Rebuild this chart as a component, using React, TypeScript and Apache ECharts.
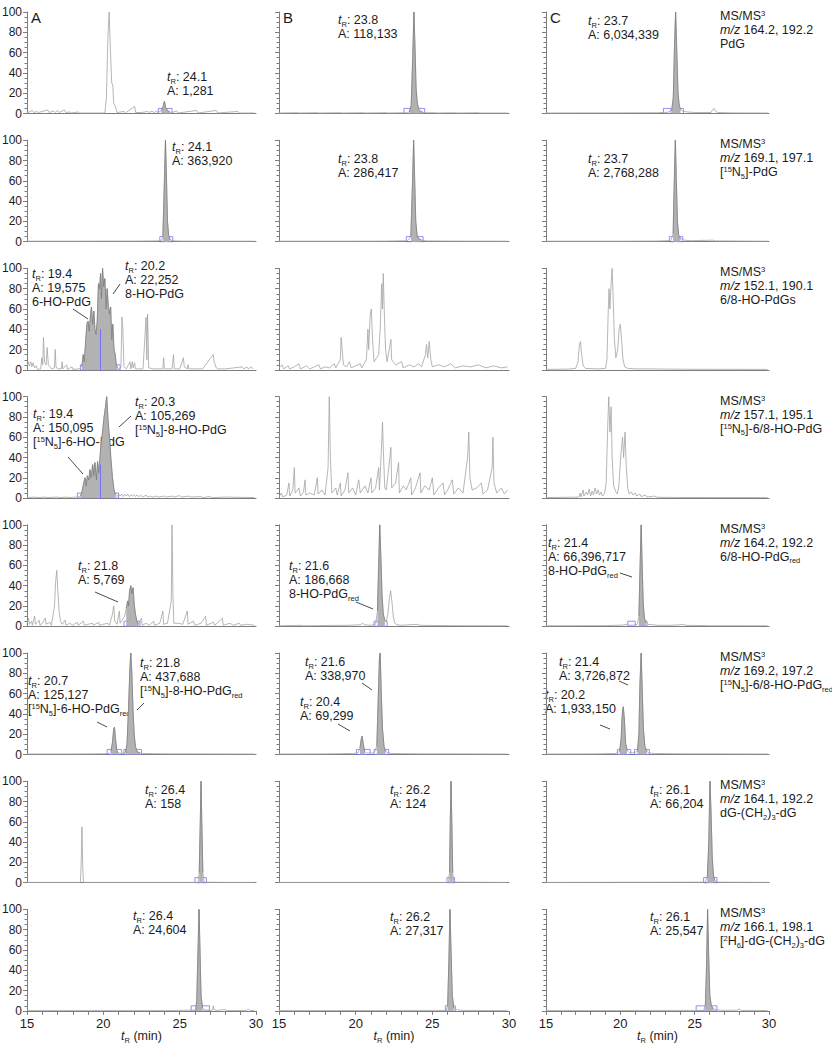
import React, { useEffect, useRef } from "react";
import * as echarts from "echarts";

const FONT = "'Liberation Sans', Arial, Helvetica, sans-serif";
const X_MIN = 15;
const X_MAX = 30;
const xTickLabels = [15, 20, 25, 30];
const yTickLabels = [0, 20, 40, 60, 80, 100];
const panelLetters = ["A", "B", "C"];
const mzPairs = [
  "164.2, 192.2",
  "169.1, 197.1",
  "152.1, 190.1",
  "157.1, 195.1",
  "164.2, 192.2",
  "169.2, 197.2",
  "164.1, 192.2",
  "166.1, 198.1",
];
const N15 = "{n|[}{sup|15}{n|N}{sub|5}{n|]}";
const compoundLabels = [
  "{n|PdG}",
  N15 + "{n|-PdG}",
  "{n|6/8-HO-PdGs}",
  N15 + "{n|-6/8-HO-PdG}",
  "{n|6/8-HO-PdG}{sub|red}",
  N15 + "{n|-6/8-HO-PdG}{sub|red}",
  "{n|dG-(CH}{sub|2}{n|)}{sub|3}{n|-dG}",
  "{n|[}{sup|2}{n|H}{sub|6}{n|]-dG-(CH}{sub|2}{n|)}{sub|3}{n|-dG}",
];

// ---- traces: [time (min), relative abundance (%)] ----
const trA1 = [[15.0,0.5],[15.35,3],[15.45,1],[15.65,2],[15.75,1],[16.35,3.5],[16.45,1],[16.75,2.5],[16.85,1],[17.0,3],[17.1,1],[17.45,3.5],[17.55,1],[17.8,1.5],[17.9,0.5],[18.35,1.5],[18.45,0.5],[20.1,0.5],[20.2,15],[20.3,75],[20.38,100],[20.47,60],[20.55,30],[20.62,28],[20.68,10],[20.78,7],[20.9,1],[21.35,2],[21.45,0.5],[22.05,7],[22.12,1],[22.5,1],[22.9,2],[23.0,1],[23.2,2.5],[23.3,1],[23.5,2],[23.6,1],[23.8,3],[23.92,7],[24.0,12],[24.08,6],[24.2,3],[24.35,1.5],[24.5,1],[24.8,2.5],[24.9,0.5],[26.1,3],[26.2,0.5],[27.4,3],[27.5,0.5],[28.8,2],[28.9,0.5],[29.9,0.5]];
const trB1 = [[15.0,0.5],[16.2,0.8],[16.3,0.5],[17.5,0.8],[17.6,0.5],[19.0,0.8],[19.1,0.5],[20.5,0.8],[20.6,0.5],[22.0,0.8],[22.1,0.5],[23.3,0.8],[23.5,1.5],[23.62,8],[23.72,55],[23.8,100],[23.87,65],[23.94,25],[24.02,10],[24.12,4],[24.25,2],[24.4,1],[24.6,0.8],[25.2,0.8],[25.3,0.5],[26.5,0.8],[26.6,0.5],[28.0,0.8],[28.1,0.5],[29.9,0.5]];
const trC1 = [[15.0,0.5],[17.0,0.6],[19.0,0.6],[21.0,0.7],[22.5,0.8],[23.2,1.2],[23.45,3],[23.56,15],[23.65,70],[23.72,100],[23.8,60],[23.88,20],[23.96,8],[24.05,4],[24.2,2.5],[24.5,1.5],[25.0,1],[26.1,1],[26.22,4],[26.32,5],[26.42,2],[26.55,1],[27.5,0.6],[29.9,0.5]];

const trA2 = [[15.0,0.5],[18.0,0.5],[20.0,0.6],[22.0,0.6],[23.5,0.8],[23.8,1.2],[23.9,5],[24.0,60],[24.07,100],[24.14,60],[24.2,20],[24.28,6],[24.38,2],[24.5,1],[25.0,0.6],[27.0,0.5],[29.9,0.5]];
const trB2 = [[15.0,0.5],[19.0,0.5],[22.0,0.6],[23.4,1],[23.6,5],[23.7,55],[23.78,100],[23.85,60],[23.92,20],[24.0,7],[24.1,3],[24.3,1.5],[24.6,0.8],[26.0,0.6],[29.9,0.5]];
const trC2 = [[15.0,0.5],[20.0,0.5],[22.5,0.7],[23.4,1.2],[23.55,8],[23.63,60],[23.7,100],[23.77,60],[23.84,20],[23.93,6],[24.05,3],[24.3,1.5],[24.7,1],[26.2,1.5],[26.4,0.8],[29.9,0.5]];

const trA3 = [[15.0,3],[15.08,8],[15.15,4],[15.25,8],[15.32,3],[15.4,7],[15.5,2],[15.6,4],[15.7,0.5],[15.9,1],[15.97,12],[16.03,5],[16.08,32],[16.15,8],[16.25,5],[16.32,22],[16.4,5],[16.5,3],[16.6,1],[16.8,2],[16.85,20],[16.9,3],[17.0,1],[17.25,1],[17.3,8],[17.35,1],[17.6,5],[17.65,0.5],[17.95,3],[18.0,0.5],[18.4,1],[18.5,2],[18.6,4],[18.68,15],[18.75,8],[18.85,30],[18.92,45],[19.0,48],[19.07,38],[19.15,52],[19.22,62],[19.3,45],[19.38,58],[19.45,40],[19.52,35],[19.6,48],[19.68,85],[19.75,80],[19.82,95],[19.88,70],[19.95,100],[20.02,82],[20.1,90],[20.18,60],[20.25,80],[20.32,65],[20.4,55],[20.48,62],[20.55,30],[20.62,45],[20.7,20],[20.78,15],[20.85,5],[20.92,2],[21.0,1],[21.15,2],[21.22,52],[21.28,40],[21.35,3],[21.5,1],[21.75,8],[21.8,1],[21.9,8],[21.95,2],[22.05,7],[22.1,1],[22.6,1],[22.8,52],[22.85,10],[22.9,55],[22.97,2],[23.3,1],[23.9,1],[23.95,12],[24.0,1],[24.5,1],[24.6,15],[24.65,1],[25.0,1],[25.25,12],[25.3,3],[25.5,1],[25.55,5],[25.6,1],[26.5,1],[27.2,15],[27.26,8],[27.4,2],[27.5,1],[28.0,1],[29.1,3],[29.2,1],[29.4,3],[29.5,1],[29.7,3],[29.8,1]];
const trB3 = [[15.0,2],[15.2,5],[15.3,1],[15.6,4],[15.7,1],[16.0,3],[16.3,6],[16.4,1],[16.8,4],[17.0,1],[17.3,3],[17.6,5],[17.7,1],[18.0,3],[18.3,2],[18.6,6],[18.7,2],[19.0,10],[19.05,32],[19.12,20],[19.2,5],[19.4,3],[19.6,8],[19.7,2],[20.0,4],[20.3,6],[20.4,2],[20.7,10],[20.8,40],[20.85,20],[20.95,55],[21.02,60],[21.1,30],[21.2,8],[21.5,15],[21.6,40],[21.7,85],[21.75,60],[21.8,95],[21.88,50],[21.95,20],[22.05,8],[22.3,30],[22.35,10],[22.6,5],[23.0,8],[23.1,2],[23.5,5],[23.8,3],[24.1,6],[24.3,3],[24.55,15],[24.62,25],[24.7,12],[24.8,28],[24.9,10],[25.0,3],[25.4,5],[25.8,3],[26.2,6],[26.5,2],[27.0,4],[27.5,3],[28.0,5],[28.5,2],[29.0,4],[29.5,2],[29.9,3]];
const trC3 = [[15.0,0.5],[16.5,0.8],[17.0,1.5],[17.15,8],[17.25,25],[17.32,28],[17.4,15],[17.5,4],[17.65,1.5],[18.5,1],[19.0,1.5],[19.1,10],[19.18,55],[19.24,80],[19.3,60],[19.38,85],[19.45,100],[19.52,70],[19.6,30],[19.7,12],[19.82,20],[19.92,40],[20.0,45],[20.08,30],[20.18,10],[20.3,3],[20.5,1.5],[21.0,1],[22.0,1],[23.0,0.8],[25.0,0.6],[29.9,0.5]];

const trA4 = [[15.0,0.5],[15.5,1],[15.6,0.5],[16.2,1],[16.3,0.5],[17.0,1],[17.1,0.5],[17.6,1],[17.7,0.5],[18.2,1],[18.3,0.5],[18.5,2],[18.6,6],[18.7,14],[18.8,20],[18.88,12],[18.95,22],[19.05,18],[19.12,28],[19.2,20],[19.3,33],[19.38,22],[19.45,35],[19.55,18],[19.62,36],[19.7,25],[19.78,40],[19.86,55],[19.95,65],[20.05,80],[20.14,90],[20.22,100],[20.3,78],[20.4,60],[20.5,38],[20.6,20],[20.7,8],[20.8,3],[20.9,1.5],[21.0,4],[21.1,2],[21.2,4],[21.3,1.5],[21.4,3.5],[21.5,2],[21.6,4],[21.7,1.5],[21.8,3],[21.9,2],[22.0,3.5],[22.1,1.5],[22.2,3],[22.3,1.5],[22.45,2.5],[22.6,1],[22.8,3],[22.9,1],[23.1,2],[23.2,1],[23.5,2],[23.6,1],[24.0,2],[24.1,1],[24.5,2],[24.6,1],[25.0,2.5],[25.1,1],[25.6,2],[25.7,1],[26.4,1.5],[26.5,0.5],[27.0,1.5],[27.1,0.5],[28.0,1],[29.9,0.5]];
const trB4 = [[15.0,1],[15.15,5],[15.25,1],[15.5,3],[15.65,15],[15.7,2],[15.9,8],[16.0,30],[16.05,5],[16.3,10],[16.4,2],[16.6,6],[16.7,18],[16.75,3],[17.0,5],[17.3,3],[17.5,20],[17.55,4],[17.8,8],[18.0,3],[18.2,30],[18.28,100],[18.35,40],[18.45,5],[18.7,10],[18.8,3],[19.0,15],[19.05,2],[19.3,8],[19.5,25],[19.55,5],[19.8,10],[20.0,3],[20.2,18],[20.3,5],[20.6,12],[20.8,5],[21.0,20],[21.05,5],[21.3,10],[21.5,30],[21.55,8],[21.7,55],[21.75,75],[21.82,40],[21.9,10],[22.0,8],[22.3,50],[22.35,10],[22.6,15],[22.8,35],[22.85,5],[23.1,12],[23.3,8],[23.6,20],[23.65,3],[23.9,10],[24.2,25],[24.25,5],[24.5,12],[24.8,8],[25.0,20],[25.1,3],[25.4,10],[25.7,15],[25.8,3],[26.0,8],[26.3,18],[26.4,4],[26.7,10],[27.0,5],[27.3,40],[27.38,65],[27.45,20],[27.6,8],[27.9,10],[28.2,15],[28.3,4],[28.6,8],[28.9,30],[28.95,60],[29.02,15],[29.2,5],[29.5,10],[29.7,4],[29.9,8]];
const trC4 = [[15.0,0.5],[16.5,0.8],[17.2,1],[17.3,5],[17.35,1],[17.5,8],[17.55,2],[17.7,6],[17.8,3],[17.9,9],[18.0,2],[18.1,7],[18.2,3],[18.3,10],[18.4,4],[18.5,8],[18.6,3],[18.7,6],[18.8,2],[18.95,5],[19.05,15],[19.15,70],[19.22,100],[19.3,65],[19.38,90],[19.45,40],[19.55,12],[19.7,6],[19.8,4],[19.9,12],[20.05,45],[20.15,60],[20.22,40],[20.32,65],[20.4,30],[20.5,10],[20.6,4],[20.75,6],[20.85,3],[21.0,5],[21.1,2],[21.3,4],[21.4,1.5],[21.7,3],[21.8,1],[22.3,2],[22.5,0.8],[24.0,0.6],[29.9,0.5]];

const trA5 = [[15.0,2],[15.1,8],[15.15,2],[15.3,5],[15.35,1],[15.5,10],[15.55,2],[15.8,6],[15.85,1],[16.0,3],[16.2,8],[16.25,2],[16.5,4],[16.6,1],[16.8,20],[16.88,45],[16.95,55],[17.02,35],[17.1,15],[17.2,5],[17.3,2],[17.5,6],[17.55,1],[17.8,3],[18.0,1],[18.3,4],[18.35,1],[18.7,5],[18.75,1],[19.0,2],[19.3,3],[19.35,1],[19.7,4],[19.75,1],[20.0,2],[20.3,3],[20.4,1],[20.6,12],[20.68,20],[20.75,5],[20.9,2],[21.05,15],[21.1,3],[21.3,8],[21.4,10],[21.5,18],[21.6,25],[21.65,20],[21.72,35],[21.8,40],[21.87,32],[21.95,38],[22.02,22],[22.1,12],[22.2,5],[22.3,2],[22.5,8],[22.55,1],[22.8,3],[23.0,1],[23.3,5],[23.35,1],[23.7,3],[23.9,15],[23.95,2],[24.2,3],[24.45,25],[24.5,100],[24.56,30],[24.62,3],[24.9,3],[25.2,2],[25.5,15],[25.55,2],[25.9,5],[26.0,1],[26.4,3],[26.7,10],[26.75,1],[27.2,4],[27.3,1],[27.8,8],[27.85,1],[28.3,3],[28.5,1],[28.9,3],[29.0,1],[29.4,2],[29.9,1]];
const trB5 = [[15.0,0.5],[16.5,1],[16.6,0.5],[18.0,0.8],[19.5,1],[20.3,1.5],[20.45,3],[20.6,1.5],[21.0,1],[21.3,2],[21.42,15],[21.5,60],[21.57,100],[21.64,70],[21.72,30],[21.8,12],[21.9,6],[22.0,5],[22.1,12],[22.2,28],[22.28,35],[22.36,25],[22.45,10],[22.55,3],[22.7,1.5],[23.0,1],[24.0,2],[24.2,1],[25.0,0.8],[27.0,0.6],[29.9,0.5]];
const trC5 = [[15.0,0.5],[17.0,0.6],[19.0,0.7],[20.2,1.2],[20.4,2],[20.55,1],[21.0,1.2],[21.15,2],[21.25,10],[21.33,60],[21.4,100],[21.47,60],[21.54,22],[21.62,8],[21.72,4],[21.85,2],[22.2,1.5],[22.5,1],[23.4,1],[24.0,1.5],[24.2,2],[24.4,1],[26.0,0.6],[29.9,0.5]];

const trA6 = [[15.0,0.5],[17.0,0.5],[19.0,0.6],[20.0,0.8],[20.4,1],[20.5,3],[20.6,12],[20.68,25],[20.73,27],[20.8,15],[20.88,4],[20.98,1.5],[21.2,1],[21.45,2],[21.55,10],[21.65,45],[21.74,85],[21.8,100],[21.87,80],[21.94,45],[22.02,20],[22.1,8],[22.2,3],[22.4,1.5],[22.6,1],[24.0,0.7],[26.0,0.6],[29.9,0.5]];
const trB6 = [[15.0,0.5],[18.0,0.6],[19.8,1],[20.15,1.5],[20.28,6],[20.36,15],[20.42,18],[20.5,10],[20.58,3],[20.7,1.5],[21.2,1.5],[21.38,8],[21.47,55],[21.55,95],[21.6,100],[21.67,60],[21.75,25],[21.85,8],[21.95,3],[22.1,1.5],[22.4,1],[24.0,0.7],[29.9,0.5]];
const trC6 = [[15.0,0.5],[18.0,0.6],[19.7,1],[19.95,3],[20.05,15],[20.13,40],[20.2,47],[20.27,35],[20.35,12],[20.45,4],[20.6,2],[20.9,1.5],[21.15,3],[21.25,20],[21.32,70],[21.4,100],[21.47,65],[21.55,25],[21.65,8],[21.78,3],[21.95,1.5],[22.3,1],[24.0,0.7],[29.9,0.5]];

const trA7 = [[15.0,0.3],[17.0,0.3],[18.5,0.3],[18.55,20],[18.6,55],[18.65,15],[18.7,0.3],[22.0,0.3],[26.2,0.3],[26.28,10],[26.35,60],[26.4,100],[26.45,60],[26.52,10],[26.6,0.5],[28.0,0.3],[29.9,0.3]];
const trB7 = [[15.0,0.3],[26.05,0.3],[26.12,10],[26.18,70],[26.22,100],[26.27,60],[26.33,10],[26.4,0.5],[29.9,0.3]];
const trC7 = [[15.0,0.3],[25.7,0.5],[25.85,5],[25.95,40],[26.03,100],[26.1,70],[26.18,25],[26.26,8],[26.35,2],[26.6,0.5],[29.9,0.3]];

const trA8 = [[15.0,0.3],[24.0,0.3],[26.05,0.8],[26.12,10],[26.2,60],[26.27,100],[26.34,55],[26.4,15],[26.5,3],[26.65,1],[27.0,0.5],[27.15,1],[27.2,5],[27.25,1],[27.5,0.5],[28.0,1.5],[28.05,0.3],[29.4,0.5],[29.5,2],[29.6,0.5],[29.9,0.3]];
const trB8 = [[15.0,0.3],[25.9,0.5],[26.0,5],[26.08,50],[26.15,100],[26.22,60],[26.3,15],[26.4,3],[26.6,1],[27.0,0.5],[29.9,0.3]];
const trC8 = [[15.0,0.3],[25.6,0.5],[25.72,5],[25.8,45],[25.87,100],[25.94,55],[26.02,15],[26.12,5],[26.25,2],[26.5,1],[27.0,0.5],[27.9,0.8],[28.0,2],[28.1,0.5],[29.0,0.5],[29.9,0.3]];

// integrated ranges (min), peak start/end markers (min), split lines [time, height]
const panels = [
  { trace: trA1, fill: [[23.7, 24.4]], boxes: [[23.6, 24.05], [24.05, 24.5]], split: [] },
  { trace: trB1, fill: [[23.5, 24.4]], boxes: [[23.15, 23.7], [24.0, 24.5]], split: [] },
  { trace: trC1, fill: [[23.4, 24.15]], boxes: [[22.9, 23.4], [23.75, 24.25]], split: [] },
  { trace: trA2, fill: [[23.85, 24.45]], boxes: [[23.7, 24.05], [24.15, 24.55]], split: [] },
  { trace: trB2, fill: [[23.55, 24.35]], boxes: [[23.3, 23.7], [24.0, 24.4]], split: [] },
  { trace: trC2, fill: [[23.45, 24.15]], boxes: [[23.3, 23.65], [23.8, 24.2]], split: [] },
  { trace: trA3, fill: [[18.55, 20.95]], boxes: [[18.5, 18.95], [19.6, 20.05], [20.65, 21.1]], split: [[19.8, 40]] },
  { trace: trB3, fill: [], boxes: [], split: [] },
  { trace: trC3, fill: [], boxes: [], split: [] },
  { trace: trA4, fill: [[18.5, 20.85]], boxes: [[18.3, 18.75], [19.5, 19.95], [20.6, 21.0]], split: [[19.8, 33]] },
  { trace: trB4, fill: [], boxes: [], split: [] },
  { trace: trC4, fill: [], boxes: [], split: [] },
  { trace: trA5, fill: [[21.45, 22.35]], boxes: [[21.35, 21.75], [22.0, 22.4]], split: [] },
  { trace: trB5, fill: [[21.35, 21.95]], boxes: [[21.2, 21.55], [21.7, 22.05]], split: [] },
  { trace: trC5, fill: [[21.2, 21.8]], boxes: [[20.5, 21.0], [21.3, 21.8]], split: [] },
  { trace: trA6, fill: [[20.45, 21.0], [21.45, 22.45]], boxes: [[20.25, 20.7], [20.75, 21.2], [21.35, 21.75], [21.95, 22.5]], split: [] },
  { trace: trB6, fill: [[20.2, 20.65], [21.3, 22.05]], boxes: [[20.05, 20.45], [20.55, 20.95], [21.2, 21.55], [21.75, 22.15]], split: [] },
  { trace: trC6, fill: [[19.9, 20.55], [21.1, 21.9]], boxes: [[19.8, 20.2], [20.3, 20.7], [20.95, 21.3], [21.6, 21.95]], split: [] },
  { trace: trA7, fill: [[26.25, 26.58]], boxes: [[26.0, 26.4], [26.4, 26.75]], split: [] },
  { trace: trB7, fill: [[26.08, 26.38]], boxes: [[25.95, 26.2], [26.2, 26.45]], split: [] },
  { trace: trC7, fill: [[25.8, 26.45]], boxes: [[25.6, 26.0], [26.1, 26.5]], split: [] },
  { trace: trA8, fill: [[26.05, 26.6]], boxes: [[25.75, 26.2], [26.45, 26.95]], split: [] },
  { trace: trB8, fill: [[25.95, 26.5]], boxes: [[25.85, 26.15], [26.2, 26.5]], split: [] },
  { trace: trC8, fill: [[25.7, 26.3]], boxes: [[25.1, 25.7], [25.95, 26.5]], split: [] },
];

// ---- annotation texts ----
const tR = (v: string) => `{i|t}{sub|R}{n|: ${v}}`;
const ar = (v: string) => `{n|A: ${v}}`;
const notes = [
  { x: 167, cy: 77, lines: [tR("24.1"), ar("1,281")] },
  { x: 338, cy: 20, lines: [tR("23.8"), ar("118,133")] },
  { x: 588, cy: 21, lines: [tR("23.7"), ar("6,034,339")] },
  { x: 172, cy: 147, lines: [tR("24.1"), ar("363,920")] },
  { x: 338, cy: 159, lines: [tR("23.8"), ar("286,417")] },
  { x: 588, cy: 159, lines: [tR("23.7"), ar("2,768,288")] },
  { x: 32, cy: 274, lines: [tR("19.4"), ar("19,575"), "{n|6-HO-PdG}"] },
  { x: 125, cy: 266, lines: [tR("20.2"), ar("22,252"), "{n|8-HO-PdG}"] },
  { x: 33, cy: 414, lines: [tR("19.4"), ar("150,095"), N15 + "{n|-6-HO-PdG}"] },
  { x: 135, cy: 402, lines: [tR("20.3"), ar("105,269"), N15 + "{n|-8-HO-PdG}"] },
  { x: 78, cy: 566, lines: [tR("21.8"), ar("5,769")] },
  { x: 289, cy: 566, lines: [tR("21.6"), ar("186,668"), "{n|8-HO-PdG}{sub|red}"] },
  { x: 548, cy: 543, lines: [tR("21.4"), ar("66,396,717"), "{n|8-HO-PdG}{sub|red}"] },
  { x: 28, cy: 681, lines: [tR("20.7"), ar("125,127"), N15 + "{n|-6-HO-PdG}{sub|red}"] },
  { x: 140, cy: 663, lines: [tR("21.8"), ar("437,688"), N15 + "{n|-8-HO-PdG}{sub|red}"] },
  { x: 305, cy: 662, lines: [tR("21.6"), ar("338,970")] },
  { x: 300, cy: 702, lines: [tR("20.4"), ar("69,299")] },
  { x: 559, cy: 662, lines: [tR("21.4"), ar("3,726,872")] },
  { x: 545, cy: 695, lines: [tR("20.2"), ar("1,933,150")] },
  { x: 145, cy: 790, lines: [tR("26.4"), ar("158")] },
  { x: 390, cy: 790, lines: [tR("26.2"), ar("124")] },
  { x: 650, cy: 790, lines: [tR("26.1"), ar("66,204")] },
  { x: 133, cy: 916, lines: [tR("26.4"), ar("24,604")] },
  { x: 390, cy: 917, lines: [tR("26.2"), ar("27,317")] },
  { x: 650, cy: 917, lines: [tR("26.1"), ar("25,547")] },
];
const leaders = [
  [73, 309, 88, 319], [113, 294, 120, 284],
  [68, 457, 83, 474], [119, 427, 131, 416],
  [95, 592, 118, 602], [356, 602, 373, 609], [620, 573, 632, 577],
  [97, 722, 107, 727], [137, 710, 144, 703],
  [362, 683, 372, 690], [338, 724, 350, 731],
  [619, 681, 628, 685], [600, 725, 610, 729],
];

// ---- layout ----
const COL_LEFT = [27, 279, 546];
const COL_W = [229, 230, 223];
const ROW_TOP0 = 12;
const ROW_STEP = 128.2;
const GRID_H = 101.5;
const LH = 14;
const FS = 12.5;
const AXIS = "#7d7d7d";
const TRACE = "#a3a3a3";
const FILL = "#b2b2b2";
const EDGE = "#7a7a7a";
const BOX = "#7373ff";
const INK = "#1c1c1c";

const rich = {
  n: { fontSize: FS, fontFamily: FONT, fill: INK, lineHeight: LH },
  i: { fontSize: FS, fontFamily: FONT, fontStyle: "italic", fill: INK, lineHeight: LH },
  sub: { fontSize: 7.5, fontFamily: FONT, fill: INK, verticalAlign: "top", padding: [7, 0, 0, 0], lineHeight: 8 },
  sup: { fontSize: 7.5, fontFamily: FONT, fill: INK, verticalAlign: "top", padding: [0.5, 0, 0, 0], lineHeight: 8 },
};

function buildOption() {
  const grid: any[] = [];
  const xAxis: any[] = [];
  const yAxis: any[] = [];
  const series: any[] = [];
  panels.forEach((p, idx) => {
    const r = Math.floor(idx / 3);
    const c = idx % 3;
    const bottom = r === 7;
    grid.push({
      left: COL_LEFT[c],
      top: ROW_TOP0 + r * ROW_STEP,
      width: COL_W[c],
      height: GRID_H,
      containLabel: false,
      outerBoundsMode: "none",
    });
    xAxis.push({
      gridIndex: idx,
      type: "value",
      min: X_MIN,
      max: X_MAX,
      interval: 1,
      axisLine: { show: true, onZero: false, lineStyle: { color: AXIS, width: 1 } },
      axisTick: { show: bottom, length: 4, lineStyle: { color: AXIS } },
      axisLabel: {
        show: bottom,
        margin: 6,
        fontSize: 13,
        fontFamily: FONT,
        color: INK,
        formatter: (v: number) => (xTickLabels.indexOf(v) >= 0 ? String(v) : ""),
      },
      splitLine: { show: false },
    });
    yAxis.push({
      gridIndex: idx,
      type: "value",
      min: 0,
      max: 100,
      interval: 20,
      axisLine: { show: true, lineStyle: { color: AXIS, width: 1 } },
      axisTick: { show: true, length: 4, lineStyle: { color: AXIS } },
      minorTick: { show: true, splitNumber: 4, length: 2.5, lineStyle: { color: AXIS } },
      axisLabel: {
        show: c === 0,
        margin: 5,
        fontSize: 12,
        fontFamily: FONT,
        color: INK,
        formatter: (v: number) => (yTickLabels.indexOf(v) >= 0 ? String(v) : ""),
      },
      splitLine: { show: false },
      minorSplitLine: { show: false },
    });
    series.push({
      type: "line",
      xAxisIndex: idx,
      yAxisIndex: idx,
      data: p.trace,
      symbol: "none",
      silent: true,
      z: 2,
      lineStyle: { color: TRACE, width: 0.8 },
    });
    p.fill.forEach((rng, k) => {
      const last = k === p.fill.length - 1;
      series.push({
        type: "line",
        xAxisIndex: idx,
        yAxisIndex: idx,
        data: p.trace.filter(([t]) => t >= rng[0] && t <= rng[1]),
        symbol: "none",
        silent: true,
        z: 3,
        lineStyle: { color: EDGE, width: 0.7 },
        areaStyle: { color: FILL, opacity: 1 },
        markArea: last
          ? {
              silent: true,
              itemStyle: { color: "rgba(0,0,0,0)", borderColor: BOX, borderWidth: 0.8 },
              label: { show: false },
              data: p.boxes.map(([a, b]) => [
                { xAxis: a, yAxis: 0 },
                { xAxis: b, yAxis: 5 },
              ]),
            }
          : undefined,
        markLine: last && p.split.length
          ? {
              silent: true,
              symbol: "none",
              label: { show: false },
              lineStyle: { color: BOX, width: 1, type: "solid" },
              data: p.split.map(([t, h]) => [
                { coord: [t, 0] },
                { coord: [t, h] },
              ]),
            }
          : undefined,
      });
    });
  });

  const graphic: any[] = [];
  panelLetters.forEach((L, c) => {
    graphic.push({
      type: "text",
      x: COL_LEFT[c] + 4,
      y: 10,
      style: { text: L, fontSize: 15, fontFamily: FONT, fill: INK, verticalAlign: "top" },
    });
  });
  notes.forEach((nt) => {
    graphic.push({
      type: "text",
      x: nt.x,
      y: nt.cy - LH / 2,
      style: { text: nt.lines.join("\n"), rich, verticalAlign: "top", align: "left" },
    });
  });
  leaders.forEach(([x1, y1, x2, y2]) => {
    graphic.push({
      type: "line",
      shape: { x1, y1, x2, y2 },
      style: { stroke: INK, lineWidth: 0.8 },
    });
  });
  mzPairs.forEach((mz, r) => {
    const lines = ["{n|MS/MS}{sup|3}", "{i|m/z}{n|\u00a0" + mz + "}", compoundLabels[r]];
    graphic.push({
      type: "text",
      x: 720,
      y: ROW_TOP0 + r * ROW_STEP - 3,
      style: { text: lines.join("\n"), rich, verticalAlign: "top", align: "left" },
    });
  });
  COL_LEFT.forEach((l, c) => {
    graphic.push({
      type: "text",
      x: l + COL_W[c] / 2,
      y: 1036 - LH / 2,
      style: { text: "{i|t}{sub|R}{n|\u00a0(min)}", rich, verticalAlign: "top", align: "center" },
    });
  });

  return {
    animation: false,
    backgroundColor: "#ffffff",
    grid,
    xAxis,
    yAxis,
    series,
    graphic: { elements: graphic },
  };
}

export default function App() {
  const ref = useRef<HTMLDivElement>(null);
  useEffect(() => {
    if (!ref.current) return;
    const chart = echarts.init(ref.current, undefined, { renderer: "svg" });
    chart.setOption(buildOption() as any);
    return () => chart.dispose();
  }, []);
  return (
    <div
      ref={ref}
      style={{ position: "absolute", left: 0, top: 0, width: 832, height: 1050, background: "#fff" }}
    />
  );
}
